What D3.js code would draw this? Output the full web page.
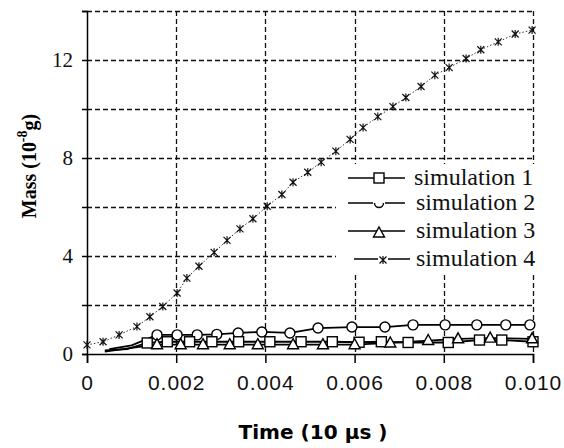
<!DOCTYPE html>
<html><head><meta charset="utf-8">
<script src="https://cdn.jsdelivr.net/npm/d3@7"></script>
<style>
html,body{margin:0;padding:0;background:#fff;}
svg{display:block;}
</style></head>
<body>
<svg id="c" width="564" height="448"></svg>
<script>
// ---- data ----
const xTicks = [0, 0.002, 0.004, 0.006, 0.008, 0.010];
const xTickLabels = ["0", "0.002", "0.004", "0.006", "0.008", "0.010"];
const yTicks = [0, 2, 4, 6, 8, 10, 12, 14];
const yTickLabels = ["0", "", "4", "", "8", "", "12", ""];

const sim1T = [0.0004, 0.0009, 0.00135, 0.0018, 0.0023, 0.0028, 0.0034, 0.0041, 0.0048, 0.0055, 0.0061, 0.0066, 0.0072, 0.0081, 0.0088, 0.0093, 0.0100];
const sim1V = [0.15, 0.2, 0.45, 0.5, 0.5, 0.5, 0.5, 0.5, 0.5, 0.5, 0.48, 0.5, 0.47, 0.47, 0.57, 0.57, 0.5];

const sim2T = [0.0005, 0.0010, 0.00157, 0.00202, 0.00247, 0.00291, 0.00339, 0.00392, 0.00455, 0.00518, 0.00594, 0.00668, 0.00731, 0.00803, 0.00874, 0.00939, 0.00993];
const sim2V = [0.2, 0.35, 0.78, 0.78, 0.78, 0.8, 0.86, 0.9, 0.86, 1.06, 1.1, 1.1, 1.19, 1.19, 1.19, 1.19, 1.19];

const sim3T = [0.0004, 0.0010, 0.00157, 0.0021, 0.0026, 0.0032, 0.00383, 0.00462, 0.00529, 0.0060, 0.0068, 0.00765, 0.00832, 0.00904, 0.00998];
const sim3V = [0.1, 0.25, 0.38, 0.38, 0.38, 0.38, 0.38, 0.38, 0.38, 0.38, 0.45, 0.55, 0.62, 0.65, 0.62];

const sim4T = [0, 0.00036, 0.00072, 0.00112, 0.00141, 0.0017, 0.00202, 0.00224, 0.00251, 0.00285, 0.00314, 0.00343, 0.00372, 0.00404, 0.00437, 0.00462, 0.00495, 0.00525, 0.00558, 0.0059, 0.00619, 0.00652, 0.00686, 0.00715, 0.00749, 0.0078, 0.00812, 0.0085, 0.00883, 0.00922, 0.0096, 0.00998];
const sim4V = [0.37, 0.5, 0.78, 1.12, 1.52, 1.94, 2.49, 3.1, 3.58, 4.15, 4.64, 5.11, 5.52, 6.03, 6.51, 7.01, 7.42, 7.83, 8.28, 8.76, 9.24, 9.69, 10.1, 10.47, 10.92, 11.38, 11.69, 12.06, 12.42, 12.74, 13.06, 13.22];

const seriesNames = ["simulation 1", "simulation 2", "simulation 3", "simulation 4"];

// ---- chart ----
const svg = d3.select("#c");
const x = d3.scaleLinear().domain([0, 0.010]).range([87, 533]);
const y = d3.scaleLinear().domain([0, 14]).range([354, 11]);

// grid
const grid = svg.append("g").attr("stroke", "#111").attr("stroke-width", 1.3).attr("stroke-dasharray", "5,3").attr("fill", "none");
yTicks.filter(d => d > 0).forEach(d => {
  grid.append("line").attr("x1", x(0)).attr("x2", x(0.010)).attr("y1", Math.round(y(d)) + 0.5).attr("y2", Math.round(y(d)) + 0.5);
});
xTicks.filter(d => d > 0).forEach(d => {
  grid.append("line").attr("x1", Math.round(x(d)) + 0.5).attr("x2", Math.round(x(d)) + 0.5).attr("y1", y(14)).attr("y2", y(0));
});

// axes
const yAxis = d3.axisLeft(y).tickValues(yTicks).tickSize(5).tickPadding(9)
  .tickFormat((d, i) => yTickLabels[i]);
const gy = svg.append("g").attr("transform", "translate(87,0)").call(yAxis);
gy.select(".domain").attr("stroke", "#000").attr("stroke-width", 1.5);
gy.selectAll(".tick line").attr("stroke", "#000").attr("stroke-width", 1.5);
gy.selectAll(".tick text").attr("font-family", "Liberation Serif, serif").attr("font-size", 21).attr("fill", "#111");

const xAxis = d3.axisBottom(x).tickValues(xTicks).tickSize(9).tickPadding(12)
  .tickFormat((d, i) => xTickLabels[i]);
const gx = svg.append("g").attr("transform", "translate(0,354)").call(xAxis);
gx.select(".domain").attr("stroke", "#000").attr("stroke-width", 1.5);
gx.selectAll(".tick line").attr("stroke", "#000").attr("stroke-width", 1.5);
gx.selectAll(".tick text").attr("font-family", "Liberation Sans Narrow, Liberation Sans, sans-serif")
  .attr("font-size", 21).attr("letter-spacing", 1).attr("fill", "#111").attr("dy", "0.71em");

// series
const mk = (T, V) => T.map((t, i) => ({t, v: V[i]}));
const s1 = mk(sim1T, sim1V), s2 = mk(sim2T, sim2V), s3 = mk(sim3T, sim3V), s4 = mk(sim4T, sim4V);
const line = d3.line().x(d => x(d.t)).y(d => y(d.v));

svg.append("path").datum(s4).attr("d", line).attr("fill", "none").attr("stroke", "#333").attr("stroke-width", 1).attr("stroke-dasharray", "1.5,2");
[s2, s1, s3].forEach(s => {
  svg.append("path").datum(s).attr("d", line).attr("fill", "none").attr("stroke", "#000").attr("stroke-width", 1.8);
});

function square(g, cx, cy) {
  g.append("rect").attr("x", cx - 5).attr("y", cy - 5).attr("width", 10).attr("height", 10)
    .attr("fill", "#fff").attr("stroke", "#000").attr("stroke-width", 1.4);
}
function circle(g, cx, cy) {
  g.append("circle").attr("cx", cx).attr("cy", cy).attr("r", 5)
    .attr("fill", "#fff").attr("stroke", "#000").attr("stroke-width", 1.4);
}
function triangle(g, cx, cy) {
  g.append("path").attr("d", `M${cx},${cy - 6}L${cx + 5.5},${cy + 4}L${cx - 5.5},${cy + 4}Z`)
    .attr("fill", "#fff").attr("stroke", "#000").attr("stroke-width", 1.4);
}
function star(g, cx, cy) {
  const r = 3.5;
  g.append("path").attr("d",
    `M${cx - r},${cy - r}L${cx + r},${cy + r}M${cx - r},${cy + r}L${cx + r},${cy - r}M${cx},${cy - r - 0.5}L${cx},${cy + r + 0.5}`)
    .attr("stroke", "#111").attr("stroke-width", 1.2).attr("fill", "none");
}

const mg = svg.append("g");
s4.forEach(d => star(mg, x(d.t), y(d.v)));
s2.slice(2).forEach(d => circle(mg, x(d.t), y(d.v)));
s1.slice(2).forEach(d => square(mg, x(d.t), y(d.v)));
s3.slice(2).forEach(d => triangle(mg, x(d.t), y(d.v)));

// legend (opaque box hides grid behind it)
const lg = svg.append("g");
lg.append("rect").attr("x", 336).attr("y", 164).attr("width", 206).attr("height", 111).attr("fill", "#fff");
const rows = [178, 203, 231, 259];
const markers = [square, null, triangle, star];
rows.forEach((ry, i) => {
  const x1 = i === 3 ? 354 : 348, x2 = i === 3 ? 410 : 405;
  lg.append("line").attr("x1", x1).attr("x2", x2).attr("y1", ry).attr("y2", ry).attr("stroke", "#000").attr("stroke-width", 1.5);
  const mx = i === 3 ? 383 : 379;
  if (i === 1) {
    lg.append("rect").attr("x", mx - 6).attr("y", ry - 1).attr("width", 12).attr("height", 8).attr("fill", "#fff");
    lg.append("path").attr("d", `M${mx - 4.5},${ry}A4.5,4.5 0 0 0 ${mx + 4.5},${ry}`).attr("fill", "#fff").attr("stroke", "#000").attr("stroke-width", 1.4);
  } else if (i === 3) {
    lg.append("rect").attr("x", mx - 5).attr("y", ry - 5).attr("width", 10).attr("height", 10).attr("fill", "#fff");
    star(lg, mx, ry + 1);
  } else {
    markers[i](lg, mx, ry + (i === 2 ? 2 : 0));
  }
  lg.append("text").attr("x", i === 0 ? 414 : 416).attr("y", ry + 7).text(seriesNames[i])
    .attr("font-family", "Liberation Serif, serif").attr("font-size", 24).attr("fill", "#111");
});

// axis titles
svg.append("text").attr("x", 313).attr("y", 439).attr("text-anchor", "middle")
  .attr("font-family", "DejaVu Sans, sans-serif").attr("font-weight", "bold").attr("font-size", 19)
  .attr("textLength", 149).attr("lengthAdjust", "spacingAndGlyphs")
  .attr("fill", "#000").text("Time (10 μs )");

const yt = svg.append("text").attr("transform", "translate(36,166) rotate(-90)").attr("text-anchor", "middle")
  .attr("font-family", "Liberation Serif, serif").attr("font-weight", "bold").attr("font-size", 20).attr("fill", "#000");
yt.append("tspan").text("Mass (10");
yt.append("tspan").attr("dy", -9).attr("font-size", 14).text("-8");
yt.append("tspan").attr("dy", 9).text("g)");
</script>
</body></html>
